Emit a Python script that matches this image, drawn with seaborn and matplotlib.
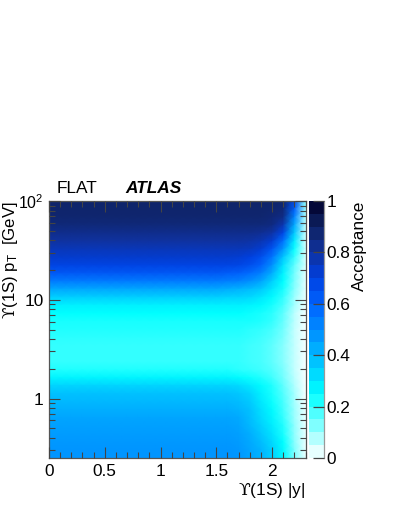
import numpy as np
import pandas as pd
import seaborn as sns
import matplotlib.pyplot as plt
from matplotlib.colors import LinearSegmentedColormap

# acceptance table, one row per pT node (100 GeV at the top, 0.25 GeV at the bottom)
# columns are |y| = 0.0, 0.1 ... 2.3
rapidity = [round(0.1 * i, 1) for i in range(24)]
acceptance = [
    [.89,.89,.89,.89,.89,.89,.89,.89,.89,.89,.89,.89,.89,.89,.89,.89,.89,.89,.89,.89,.89,.88,.68,.12],
    [.885,.885,.885,.885,.885,.885,.885,.885,.885,.885,.885,.885,.885,.885,.885,.885,.885,.885,.885,.885,.88,.87,.62,.10],
    [.88,.88,.88,.88,.88,.88,.88,.88,.88,.88,.88,.88,.88,.88,.88,.88,.88,.88,.88,.88,.87,.84,.52,.08],
    [.86,.86,.86,.86,.86,.86,.86,.86,.86,.86,.86,.86,.86,.86,.86,.86,.86,.86,.86,.86,.85,.77,.43,.07],
    [.83,.83,.83,.83,.83,.83,.83,.83,.83,.83,.83,.83,.83,.83,.83,.83,.83,.83,.83,.82,.79,.68,.36,.06],
    [.80,.80,.80,.80,.80,.80,.80,.80,.80,.80,.80,.80,.80,.80,.80,.80,.80,.80,.79,.77,.72,.57,.29,.05],
    [.76,.76,.76,.76,.76,.76,.76,.76,.76,.76,.76,.76,.76,.76,.76,.76,.76,.76,.75,.72,.64,.47,.24,.05],
    [.73,.73,.73,.73,.73,.73,.73,.73,.73,.73,.73,.73,.73,.73,.73,.73,.73,.72,.70,.66,.56,.37,.20,.04],
    [.69,.69,.69,.69,.69,.69,.69,.69,.69,.69,.69,.69,.69,.69,.69,.69,.69,.68,.66,.61,.49,.31,.16,.04],
    [.63,.63,.63,.63,.63,.63,.63,.63,.63,.63,.63,.63,.63,.63,.63,.63,.62,.61,.58,.53,.42,.27,.14,.03],
    [.54,.54,.54,.54,.54,.54,.54,.54,.54,.54,.54,.54,.54,.54,.54,.54,.53,.52,.49,.44,.35,.25,.13,.03],
    [.43,.43,.43,.43,.43,.43,.43,.43,.43,.43,.43,.43,.43,.43,.43,.43,.42,.41,.39,.36,.30,.23,.12,.03],
    [.35,.35,.35,.35,.35,.35,.35,.35,.35,.35,.35,.35,.35,.35,.35,.35,.34,.34,.33,.30,.26,.20,.10,.02],
    [.28,.28,.28,.28,.28,.28,.28,.28,.28,.28,.28,.28,.28,.28,.28,.28,.28,.28,.27,.26,.23,.18,.09,.02],
    [.25,.25,.25,.25,.25,.25,.25,.25,.25,.25,.25,.25,.25,.25,.25,.25,.25,.25,.24,.23,.21,.16,.07,.01],
    [.23,.23,.23,.23,.23,.23,.23,.23,.23,.23,.23,.23,.23,.23,.23,.23,.23,.23,.23,.22,.20,.15,.07,.01],
    [.22,.22,.22,.22,.22,.22,.22,.22,.22,.22,.22,.22,.22,.22,.22,.22,.22,.22,.21,.20,.18,.14,.06,.01],
    [.21,.21,.21,.21,.21,.21,.21,.21,.21,.21,.21,.21,.21,.21,.21,.21,.21,.21,.20,.19,.17,.13,.06,.01],
    [.20,.20,.20,.20,.20,.20,.20,.20,.20,.20,.20,.20,.20,.20,.20,.20,.20,.20,.19,.18,.16,.12,.06,.01],
    [.20,.20,.20,.20,.20,.20,.20,.20,.20,.20,.20,.20,.20,.20,.20,.20,.20,.20,.19,.18,.16,.12,.06,.01],
    [.20,.20,.20,.20,.20,.20,.20,.20,.20,.20,.20,.20,.20,.20,.20,.20,.20,.20,.19,.18,.16,.12,.06,.01],
    [.22,.22,.22,.22,.22,.22,.22,.22,.22,.22,.22,.22,.22,.22,.22,.22,.22,.21,.20,.19,.17,.13,.06,.01],
    [.27,.27,.27,.27,.27,.27,.27,.27,.27,.27,.27,.27,.27,.27,.27,.27,.27,.26,.24,.22,.19,.14,.07,.01],
    [.34,.34,.34,.34,.34,.34,.34,.34,.34,.34,.34,.34,.34,.34,.34,.34,.34,.33,.30,.26,.22,.16,.08,.01],
    [.38,.38,.38,.38,.38,.38,.38,.38,.38,.38,.38,.38,.38,.38,.38,.38,.38,.37,.34,.28,.23,.17,.09,.01],
    [.40,.40,.40,.40,.40,.40,.40,.40,.40,.40,.40,.40,.40,.40,.40,.40,.40,.39,.36,.30,.24,.18,.09,.01],
    [.42,.42,.42,.42,.42,.42,.42,.42,.42,.42,.42,.42,.42,.42,.42,.42,.42,.41,.38,.32,.26,.19,.10,.02],
    [.44,.44,.44,.44,.44,.44,.44,.44,.44,.44,.44,.44,.44,.44,.44,.44,.44,.43,.39,.33,.27,.20,.10,.02],
    [.45,.45,.45,.45,.45,.45,.45,.45,.45,.45,.45,.45,.45,.45,.45,.45,.45,.44,.40,.35,.29,.22,.11,.02],
    [.46,.46,.46,.46,.46,.46,.46,.46,.46,.46,.46,.46,.46,.46,.46,.46,.46,.45,.42,.37,.31,.23,.11,.02],
    [.47,.47,.47,.47,.47,.47,.47,.47,.47,.47,.47,.47,.47,.47,.47,.47,.47,.46,.43,.39,.33,.25,.12,.02],
    [.48,.48,.48,.48,.48,.48,.48,.48,.48,.48,.48,.48,.48,.48,.48,.48,.48,.47,.44,.41,.35,.26,.13,.02],
    [.48,.48,.48,.48,.48,.48,.48,.48,.48,.48,.48,.48,.48,.48,.48,.48,.48,.47,.44,.41,.35,.26,.13,.02],
]

# the colour scale is stepped, one value per step from 1 down to 0
cbar_levels = [.975, .925, .875, .825, .775, .725, .675, .625, .575, .525,
               .475, .425, .375, .325, .275, .225, .175, .125, .075, .025]

x_ticks = [0, 0.5, 1, 1.5, 2]
x_labels = ["0", "0.5", "1", "1.5", "2"]
y_ticks = [1, 10, 100]
y_labels = ["1", "10", "$10^{2}$"]
y_minor = [0.3, 0.4, 0.5, 0.6, 0.7, 0.8, 0.9, 2, 3, 4, 5, 6, 7, 8, 9, 20, 30, 40, 50, 60, 70, 80, 90]
cbar_ticks = [0, 0.2, 0.4, 0.6, 0.8, 1]
cbar_labels = ["0", "0.2", "0.4", "0.6", "0.8", "1"]

PT_MIN = 0.25
PT_MAX = 100
W, H = 407, 527
FONT = 12.4

sns.set_theme(style="white")
plt.rcParams["font.family"] = ["Liberation Sans", "DejaVu Sans"]
plt.rcParams["mathtext.fontset"] = "custom"
plt.rcParams["mathtext.rm"] = "Liberation Sans"
plt.rcParams["mathtext.tt"] = "DejaVu Serif"
plt.rcParams["mathtext.default"] = "regular"

cmap = LinearSegmentedColormap.from_list("acc", [
    (0.0, "#ffffff"),
    (0.25, "#00ffff"),
    (0.45, "#00a0ff"),
    (0.60, "#0064ff"),
    (0.70, "#0040e0"),
    (0.80, "#0f32a0"),
    (0.90, "#0f2364"),
    (1.0, "#00002a"),
])


def box(left, top, right, bottom):
    # pixel box to figure fractions
    return [left / W, 1 - bottom / H, (right - left) / W, (bottom - top) / H]


def pt_pos(values, n_rows):
    # pT to row position, the rows are equally spaced in log pT
    span = np.log10(PT_MAX) - np.log10(PT_MIN)
    return (np.log10(PT_MAX) - np.log10(values)) / span * (n_rows - 1)


df = pd.DataFrame(acceptance, columns=rapidity)
n_rows, n_cols = df.shape

fig = plt.figure(figsize=(W / 100, H / 100), dpi=100)
ax = fig.add_axes(box(49, 201, 305.5, 458))
cax = fig.add_axes(box(309, 201, 324, 458))

sns.heatmap(df, ax=ax, cbar=False, cmap=cmap, vmin=0, vmax=1, shading="gouraud",
            xticklabels=False, yticklabels=False, rasterized=True)
ax.set_xlim(0, n_cols - 1)
ax.set_ylim(n_rows - 1, 0)
ax.set_axisbelow(False)

x_scale = (n_cols - 1) / rapidity[-1]
ax.set_xticks([t * x_scale for t in x_ticks], labels=x_labels)
ax.set_xticks([i for i in range(n_cols) if i % 5 != 0], minor=True)
ax.set_yticks(pt_pos(np.array(y_ticks, dtype=float), n_rows), labels=y_labels)
ax.set_yticks(pt_pos(np.array(y_minor, dtype=float), n_rows), minor=True)

tick_color = "#444444"
ax.tick_params(axis="both", which="major", direction="in", length=8, width=0.8, color=tick_color,
               top=True, right=True, bottom=True, left=True, labelsize=FONT, labelcolor="black", pad=4)
ax.tick_params(axis="both", which="minor", direction="in", length=4, width=0.8, color=tick_color,
               top=True, right=True, bottom=True, left=True)
ax.get_yticklabels()[-1].set_fontsize(11.4)
for spine in ax.spines.values():
    spine.set_visible(True)
    spine.set_color("#555555")
    spine.set_linewidth(0.9)

# colour scale drawn as a one column heatmap so the steps stay visible
level_df = pd.DataFrame({"level": cbar_levels})
sns.heatmap(level_df, ax=cax, cbar=False, cmap=cmap, vmin=0, vmax=1,
            xticklabels=False, yticklabels=False, rasterized=True)
cax.set_axisbelow(False)
n_levels = len(cbar_levels)
cax.yaxis.tick_right()
cax.set_yticks([(1 - t) * n_levels for t in cbar_ticks], labels=cbar_labels)
cax.tick_params(axis="y", which="major", direction="in", length=8, width=0.9, color=tick_color,
                labelsize=FONT, labelcolor="black", pad=2, right=True, left=False, labelrotation=0)
cax.spines["right"].set_visible(True)
cax.spines["right"].set_color("#999999")
cax.spines["right"].set_linewidth(0.9)

fig.text(57 / W, 1 - 193 / H, "FLAT", fontsize=FONT, ha="left", va="baseline", color="black")
fig.text(125 / W, 1 - 193 / H, "ATLAS", fontsize=FONT, weight="bold", style="italic",
         ha="left", va="baseline", color="black")
fig.text(305 / W, 1 - 495 / H, r"$\mathtt{ϒ}$(1S) |y|", fontsize=FONT, ha="right", va="baseline", color="black")
fig.text(20.5 / W, 1 - 201 / H, r"$\mathtt{ϒ}$(1S) $p_{T}$  [GeV]", fontsize=12.1, rotation=90,
         ha="right", va="top", color="black")
fig.text(367 / W, 1 - 201 / H, "Acceptance", fontsize=FONT, rotation=90,
         ha="right", va="top", color="black")

fig.savefig("out.png", dpi=100)
plt.close(fig)
